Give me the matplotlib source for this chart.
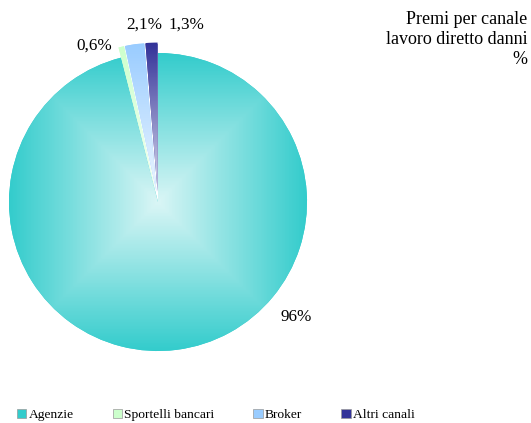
import matplotlib
matplotlib.use("Agg")

import numpy as np
import matplotlib.pyplot as plt
from matplotlib.colors import LinearSegmentedColormap, to_rgb
from matplotlib.patches import Patch


categories = ["Agenzie", "Sportelli bancari", "Broker", "Altri canali"]
shares = [96.0, 0.6, 2.1, 1.3]
value_labels = ["96%", "0,6%", "2,1%", "1,3%"]
colors = ["#33CCCC", "#CCFFCC", "#99CCFF", "#333399"]
explode = [0, 0.07, 0.07, 0.07]
title_text = "Premi per canale\nlavoro diretto danni\n%"

plt.rcParams["font.family"] = ["Liberation Serif", "DejaVu Serif"]

W, H = 531, 423
fig = plt.figure(figsize=(W / 100, H / 100), dpi=100)

# pie centre and radius in pixels
cx_px, cy_px, r_px = 158, 202, 149
k = 1.06
ax = fig.add_axes([
    (cx_px - k * r_px) / W,
    (H - cy_px - k * r_px) / H,
    2 * k * r_px / W,
    2 * k * r_px / H,
])

wedges, _ = ax.pie(
    shares,
    explode=explode,
    startangle=90,
    counterclock=False,
    colors=colors,
    wedgeprops={"linewidth": 0},
)

# rectangular "from centre" gradient fills, like Excel
n = 600
grid = np.linspace(-1.2, 1.2, n)
X, Y = np.meshgrid(grid, grid)
for wedge, color, ex in zip(wedges, colors, explode):
    theta = np.deg2rad((wedge.theta1 + wedge.theta2) / 2)
    ox, oy = ex * np.cos(theta), ex * np.sin(theta)
    t = np.clip(np.maximum(np.abs(X - ox), np.abs(Y - oy)), 0, 1)
    base = np.array(to_rgb(color))
    light = base + (1 - base) * 0.82
    cmap = LinearSegmentedColormap.from_list("g", [light, base])
    im = ax.imshow(
        t,
        cmap=cmap,
        vmin=0,
        vmax=1,
        extent=(-1.2, 1.2, -1.2, 1.2),
        origin="lower",
        interpolation="bilinear",
        zorder=wedge.get_zorder() + 0.1,
    )
    im.set_clip_path(wedge)

ax.set_xlim(-k, k)
ax.set_ylim(-k, k)
ax.set_aspect("equal")
ax.axis("off")

label_pos = [(0.93, -0.77), (-0.43, 1.05), (-0.09, 1.19), (0.19, 1.19)]
for (lx, ly), txt in zip(label_pos, value_labels):
    ax.text(lx, ly, txt, ha="center", va="center", fontsize=12.3,
            clip_on=False)

fig.text(
    527 / W,
    1 - 11 / H,
    title_text,
    ha="right",
    va="top",
    fontsize=13,
    linespacing=1.22,
)

handles = [
    Patch(facecolor=c, edgecolor="#999999", linewidth=0.5)
    for c in colors
]
fig.legend(
    handles,
    categories,
    loc="center left",
    bbox_to_anchor=(17 / W, 1 - 415 / H),
    ncol=4,
    frameon=False,
    fontsize=9.7,
    handlelength=0.7,
    handleheight=0.7,
    handletextpad=0.15,
    columnspacing=2.9,
    borderaxespad=0,
    borderpad=0,
)

fig.savefig("out.png", dpi=100)
plt.close(fig)
